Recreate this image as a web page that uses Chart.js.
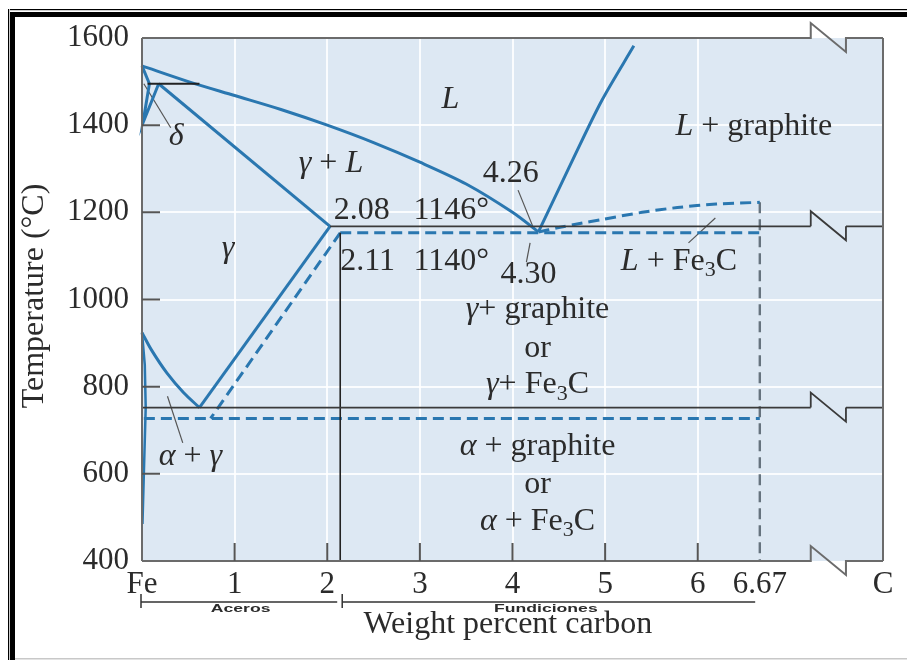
<!DOCTYPE html>
<html lang="en">
<head>
<meta charset="UTF-8" />
<title>Fe-C diagram</title>
<script src="https://cdn.jsdelivr.net/npm/chart.js"></script>
<style>
  body { margin: 0; background: #fff; }
</style>
</head>
<body>
<canvas id="myChart" width="907" height="660"></canvas>
<script>
// x = weight percent carbon, y = temperature (°C)
const xTicks = [0, 1, 2, 3, 4, 5, 6, 6.67, 8];
const xTickLabels = ["Fe", "1", "2", "3", "4", "5", "6", "6.67", "C"];
const yTicks = [400, 600, 800, 1000, 1200, 1400, 1600];

// solid blue boundaries
const liquidusX = [0, 0.5, 1, 1.5, 2, 2.5, 3, 3.5, 4, 4.28];
const liquidusT = [1536, 1500, 1468, 1436, 1400, 1360, 1315, 1265, 1200, 1155];
const liquidus2X = [4.28, 4.62, 4.96, 5.31];
const liquidus2T = [1155, 1307, 1455, 1582];
const solidusX = [0.18, 2.03];
const solidusT = [1495, 1168];
const acmX = [2.03, 0.62];
const acmT = [1168, 752];
const a3X = [0, 0.1, 0.27, 0.45, 0.62];
const a3T = [924, 885, 831, 786, 752];
const alphaX = [0, 0.03, 0.04, 0.02, 0.005];
const alphaT = [924, 850, 752, 600, 485];
const deltaAX = [0, 0.08];
const deltaAT = [1536, 1495];
const deltaBX = [0.08, 0.01, 0.18];
const deltaBT = [1495, 1405, 1495];

// dashed blue (metastable / graphite)
const acmMetaX = [2.14, 0.74];
const acmMetaT = [1153, 727];
const eutMetaX = [2.14, 6.67];
const eutMetaT = [1153, 1153];
const eutdMetaX = [0.02, 6.67];
const eutdMetaT = [727, 727];
const graphX = [4.28, 4.5, 4.74, 4.95, 5.4, 5.78, 6.2, 6.67];
const graphT = [1155, 1165, 1175, 1183, 1200, 1211, 1219, 1223];
const fe3cX = [6.67, 6.67];
const fe3cT = [1223, 400];

// solid black isotherms
const peritecticX = [0.06, 0.62];
const peritecticT = [1495, 1495];
const eutecticT = 1168;
const eutectoidT = 752;
const steelLimitX = [2.14, 2.14];
const steelLimitT = [1153, 400];
const breakFrom = 7.22, breakTo = 7.6;

// leader lines
const leaders = [
  [[0.02, 1495], [0.31, 1394]],
  [[0.275, 778], [0.44, 671]],
  [[4.06, 1251], [4.23, 1162]],
  [[4.19, 1130], [4.15, 1086]],
  [[6.19, 1187], [5.9, 1130]],
];

// text in the diagram: [x, T, align, runs]  (i = italic, n = normal, s = subscript)
const regionLabels = [
  [3.33, 1439, "center", [["L", "i"]]],
  [0.37, 1354, "center", [["δ", "i"]]],
  [2.04, 1293, "center", [["γ", "i"], [" + ", "n"], ["L", "i"]]],
  [2.07, 1185, "left", [["2.08", "n"]]],
  [2.93, 1185, "left", [["1146°", "n"]]],
  [3.68, 1270, "left", [["4.26", "n"]]],
  [5.76, 1377, "left", [["L", "i"], [" + graphite", "n"]]],
  [0.93, 1097, "center", [["γ", "i"]]],
  [2.14, 1068, "left", [["2.11", "n"]]],
  [2.93, 1068, "left", [["1140°", "n"]]],
  [3.87, 1038, "left", [["4.30", "n"]]],
  [5.17, 1068, "left", [["L", "i"], [" + Fe", "n"], ["3", "s"], ["C", "n"]]],
  [4.27, 957, "center", [["γ", "i"], ["+ graphite", "n"]]],
  [4.27, 868, "center", [["or", "n"]]],
  [4.27, 785, "center", [["γ", "i"], ["+ Fe", "n"], ["3", "s"], ["C", "n"]]],
  [4.27, 643, "center", [["α", "i"], [" + graphite", "n"]]],
  [4.27, 556, "center", [["or", "n"]]],
  [4.27, 471, "center", [["α", "i"], [" + Fe", "n"], ["3", "s"], ["C", "n"]]],
  [0.18, 620, "left", [["α", "i"], [" + ", "n"], ["γ", "i"]]],
];

const BLUE = "#2a77b0";
const INK = "#2b2b2b";
const SERIF = '"Liberation Serif", "Times New Roman", serif';

const pts = (xs, ts) => xs.map((x, i) => ({ x: x, y: ts[i] }));
const hline = (x0, t) => [
  { x: x0, y: t }, { x: breakFrom, y: t }, { x: (breakFrom + breakTo) / 2, y: null },
  { x: breakTo, y: t }, { x: 8, y: t },
];

function solid(data, color, width) {
  return { data: data, borderColor: color || BLUE, borderWidth: width || 3, showLine: true, pointRadius: 0, spanGaps: false, clip: false };
}
function dashed(data, color, width) {
  return { data: data, borderColor: color || BLUE, borderWidth: width || 3, borderDash: [11, 6], showLine: true, pointRadius: 0, clip: false };
}

const datasets = [
  solid(hline(2.03, eutecticT), "#3a3a3a", 1.8),
  solid(hline(0, eutectoidT), "#3a3a3a", 1.8),
  solid(pts(peritecticX, peritecticT), "#222", 2),
  solid(pts(steelLimitX, steelLimitT), "#222", 1.6),
  dashed(pts(eutMetaX, eutMetaT)),
  dashed(pts(eutdMetaX, eutdMetaT)),
  dashed(pts(acmMetaX, acmMetaT)),
  Object.assign(dashed(pts(graphX, graphT)), { tension: 0.3 }),
  dashed(pts(fe3cX, fe3cT), "#66737e", 2.4),
  Object.assign(solid(pts(liquidusX, liquidusT)), { tension: 0.3 }),
  Object.assign(solid(pts(liquidus2X, liquidus2T)), { tension: 0.3 }),
  solid(pts(solidusX, solidusT)),
  solid(pts(acmX, acmT)),
  Object.assign(solid(pts(a3X, a3T)), { tension: 0.3 }),
  solid(pts(alphaX, alphaT), BLUE, 2.5),
  solid(pts(deltaAX, deltaAT)),
  solid(pts(deltaBX, deltaBT)),
];
leaders.forEach((l) => datasets.push(solid(l.map((p) => ({ x: p[0], y: p[1] })), "#555", 1.2)));

function drawRuns(ctx, runs, px, py, align, size) {
  const fontFor = (s) =>
    s === "i" ? `italic ${size}px ${SERIF}` : s === "s" ? `${Math.round(size * 0.68)}px ${SERIF}` : `${size}px ${SERIF}`;
  let w = 0;
  runs.forEach(([t, s]) => { ctx.font = fontFor(s); w += ctx.measureText(t).width; });
  let x = align === "center" ? px - w / 2 : px;
  ctx.textAlign = "left";
  ctx.textBaseline = "alphabetic";
  runs.forEach(([t, s]) => {
    ctx.font = fontFor(s);
    ctx.fillText(t, x, s === "s" ? py + size * 0.2 : py);
    x += ctx.measureText(t).width;
  });
}

const frame = {
  id: "frame",
  beforeDraw(chart) {
    const ctx = chart.ctx, a = chart.chartArea;
    ctx.save();
    ctx.fillStyle = "#fff";
    ctx.fillRect(0, 0, chart.width, chart.height);
    // picture frame
    ctx.fillStyle = "#000";
    ctx.fillRect(10, 12, 897, 5);
    ctx.fillRect(10, 12, 5, 648);
    ctx.fillRect(10, 9, 897, 1.2);
    ctx.fillRect(8, 9, 1.2, 651);
    ctx.fillStyle = "#c8c8c8";
    ctx.fillRect(15, 658, 892, 1.5);
    // plot background
    ctx.fillStyle = "#dde8f3";
    ctx.fillRect(a.left, a.top, a.right - a.left, a.bottom - a.top);
    ctx.restore();
  },
  afterDraw(chart) {
    const ctx = chart.ctx, a = chart.chartArea;
    const xs = chart.scales.x, ys = chart.scales.y;
    const bx1 = xs.getPixelForValue(breakFrom), bx2 = xs.getPixelForValue(breakTo);
    ctx.save();
    // border with axis breaks
    ctx.strokeStyle = "#6b6b6b";
    ctx.lineWidth = 2;
    ctx.lineJoin = "miter";
    [a.top, a.bottom].forEach((y) => {
      ctx.beginPath();
      ctx.moveTo(a.left, y);
      ctx.lineTo(bx1, y); ctx.lineTo(bx1, y - 15); ctx.lineTo(bx2, y + 14); ctx.lineTo(bx2, y);
      ctx.lineTo(a.right, y);
      ctx.stroke();
    });
    ctx.beginPath();
    ctx.moveTo(a.left, a.top); ctx.lineTo(a.left, a.bottom);
    ctx.moveTo(a.right, a.top); ctx.lineTo(a.right, a.bottom);
    ctx.stroke();
    // breaks on the isotherms
    ctx.strokeStyle = "#3a3a3a";
    ctx.lineWidth = 1.8;
    [eutecticT, eutectoidT].forEach((t) => {
      const y = ys.getPixelForValue(t);
      ctx.beginPath();
      ctx.moveTo(bx1, y); ctx.lineTo(bx1, y - 15); ctx.lineTo(bx2, y + 14); ctx.lineTo(bx2, y);
      ctx.stroke();
    });
    // inward tick marks
    ctx.strokeStyle = "#555";
    ctx.lineWidth = 2;
    ctx.beginPath();
    yTicks.slice(1, -1).forEach((t) => {
      const y = ys.getPixelForValue(t);
      ctx.moveTo(a.left, y); ctx.lineTo(a.left + 18, y);
    });
    [1, 2, 3, 4, 5, 6].forEach((v) => {
      const x = xs.getPixelForValue(v);
      ctx.moveTo(x, a.bottom); ctx.lineTo(x, a.bottom - 18);
    });
    ctx.stroke();
    // tick labels
    ctx.fillStyle = INK;
    ctx.font = `31px ${SERIF}`;
    ctx.textAlign = "right";
    ctx.textBaseline = "middle";
    yTicks.forEach((t) => ctx.fillText(String(t), a.left - 13, ys.getPixelForValue(t)));
    ctx.textAlign = "center";
    ctx.textBaseline = "alphabetic";
    xTicks.forEach((v, i) => ctx.fillText(xTickLabels[i], xs.getPixelForValue(v), a.bottom + 32));
    // axis titles
    ctx.font = `32px ${SERIF}`;
    ctx.fillText("Weight percent carbon", (a.left + xs.getPixelForValue(6.67)) / 2 + 57, a.bottom + 72);
    ctx.save();
    ctx.translate(43, 296);
    ctx.rotate(-Math.PI / 2);
    ctx.fillText("Temperature (°C)", 0, 0);
    ctx.restore();
    // steel / cast iron brackets
    const by = a.bottom + 41;
    const x0 = xs.getPixelForValue(0) - 1, x1 = xs.getPixelForValue(2.14), x2 = xs.getPixelForValue(6.62);
    ctx.strokeStyle = "#333";
    ctx.lineWidth = 1.5;
    ctx.beginPath();
    ctx.moveTo(x0, by); ctx.lineTo(x1 - 3, by);
    ctx.moveTo(x1 + 2, by); ctx.lineTo(x2, by);
    ctx.moveTo(x0, by - 8); ctx.lineTo(x0, by + 6);
    ctx.moveTo(x1 + 2, by - 8); ctx.lineTo(x1 + 2, by + 6);
    ctx.stroke();
    ctx.font = `bold 11px "Liberation Sans", Arial, sans-serif`;
    [["Aceros", (x0 + x1) / 2], ["Fundiciones", xs.getPixelForValue(4.36)]].forEach(([t, cx]) => {
      ctx.save();
      ctx.translate(cx, by + 10);
      ctx.scale(1.6, 1);
      ctx.fillText(t, 0, 0);
      ctx.restore();
    });
    // region labels
    regionLabels.forEach(([x, t, align, runs]) =>
      drawRuns(ctx, runs, xs.getPixelForValue(x), ys.getPixelForValue(t), align, 32)
    );
    ctx.restore();
  },
};

const ctx = document.getElementById("myChart").getContext("2d");
const myChart = new Chart(ctx, {
  type: "scatter",
  data: { datasets: datasets },
  options: {
    responsive: false,
    animation: false,
    events: [],
    layout: { padding: { left: 142, right: 24, top: 38, bottom: 99 } },
    plugins: { legend: { display: false }, tooltip: { enabled: false } },
    scales: {
      x: {
        type: "linear", min: 0, max: 8,
        ticks: { display: false, stepSize: 1 },
        border: { display: false },
        grid: {
          drawTicks: false, lineWidth: 2,
          color: (c) => (c.tick && c.tick.value >= 1 && c.tick.value <= 6 ? "rgba(255,255,255,0.85)" : "rgba(0,0,0,0)"),
        },
        afterFit: (s) => { s.height = 0; },
      },
      y: {
        type: "linear", min: 400, max: 1600,
        ticks: { display: false, stepSize: 200 },
        border: { display: false },
        grid: {
          drawTicks: false, lineWidth: 2,
          color: (c) => (c.tick && c.tick.value > 400 && c.tick.value < 1600 ? "rgba(255,255,255,0.85)" : "rgba(0,0,0,0)"),
        },
        afterFit: (s) => { s.width = 0; },
      },
    },
  },
  plugins: [frame],
});
</script>
</body>
</html>
